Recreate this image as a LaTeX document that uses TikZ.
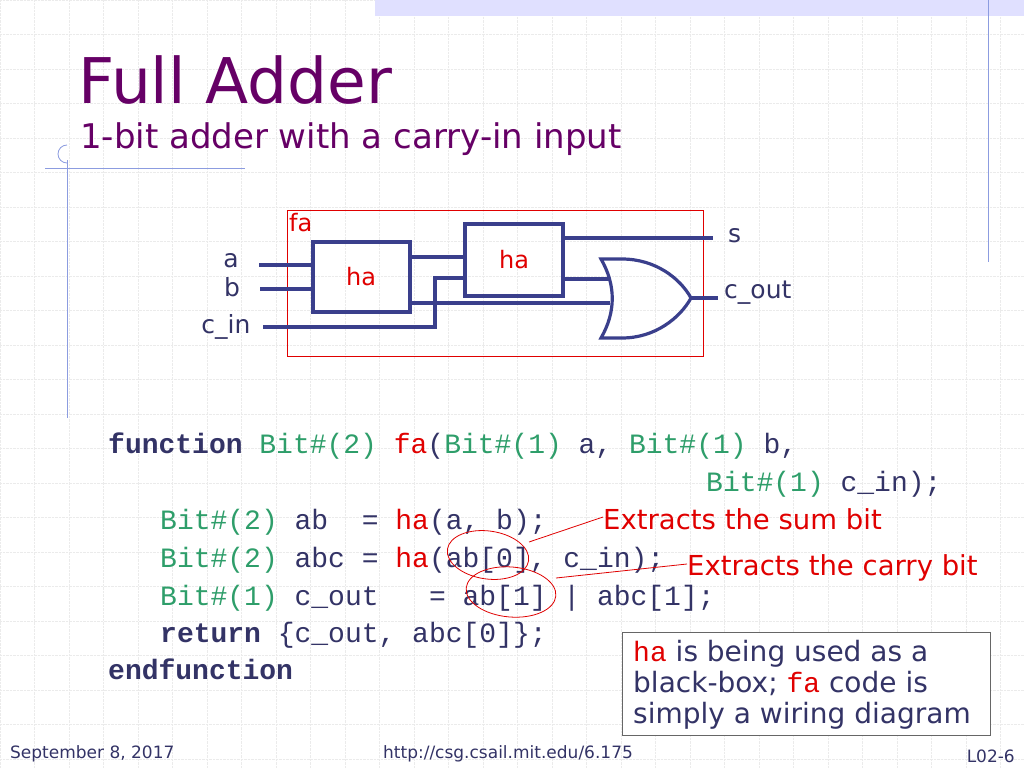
\documentclass[tikz,border=0pt]{standalone}
\usepackage{fontspec}
\setmainfont{DejaVu Sans}
\newfontfamily\codefont{Liberation Mono}
\usetikzlibrary{calc}
\definecolor{navy}{HTML}{333366}
\definecolor{wire}{HTML}{3A3F8C}
\definecolor{kgreen}{HTML}{2E9E6A}
\definecolor{kred}{HTML}{E00000}
\definecolor{ttl}{HTML}{660066}
\definecolor{rule}{HTML}{8C9CE0}
\tikzset{
  lbl/.style={text=navy,font=\fontsize{25}{27}\selectfont,inner sep=0pt},
  halbl/.style={text=kred,font=\fontsize{24}{26}\selectfont,inner sep=0pt},
  habox/.style={draw=wire,line width=3.2pt},
  w/.style={draw=wire,line width=3.2pt},
  code/.style={anchor=base west,inner sep=0pt,text=navy,font=\codefont\fontsize{28}{30}\selectfont},
  note/.style={text=kred,font=\fontsize{27.5}{29}\selectfont,inner sep=0pt,anchor=base west},
  boxt/.style={anchor=base west,inner sep=0pt,text=navy,font=\fontsize{28}{30}\selectfont},
  foot/.style={inner sep=0pt,text=navy,font=\fontsize{17}{19}\selectfont},
}
\newcommand{\G}[1]{\textcolor{kgreen}{#1}}
\newcommand{\R}[1]{\textcolor{kred}{#1}}
\begin{document}
\begin{tikzpicture}[x=1pt,y=-1pt]
\useasboundingbox (0,0) rectangle (1024,768);
\fill[white] (0,0) rectangle (1024,768);
% grid
\foreach \i in {0,...,30} {\draw[black!8,densely dotted] (\i*34.5,0) -- (\i*34.5,768);}
\foreach \i in {0,...,22} {\draw[black!8,densely dotted] (0,\i*34.5) -- (1024,\i*34.5);}
% decorations
\fill[blue!12] (375,0) rectangle (1024,16);
\draw[rule,line width=1pt] (988,0) -- (988,262);
\draw[rule,line width=1pt] (67,160) -- (67,418);
\draw[rule,line width=1pt] (45,168) -- (245,168);
\draw[rule,line width=0.8pt] (67,163) arc (90:270:9);
% title
\node[anchor=base west,inner sep=0pt,text=ttl,font=\fontsize{63}{65}\selectfont] (title) at (78,103) {Full Adder};
\node[anchor=base west,inner sep=0pt,text=ttl,font=\fontsize{34}{36}\selectfont] (sub) at (80,148) {1-bit adder with a carry-in input};
% circuit
\draw[kred,line width=0.8pt] (287,210) rectangle (703,356);
\node[halbl,anchor=north west] (fa) at (289,213) {fa};
\node[habox,minimum width=97pt,minimum height=70pt,inner sep=0pt] (ha1) at (361.5,277) {};
\node[halbl] at (361,277) {ha};
\node[habox,minimum width=98pt,minimum height=72pt,inner sep=0pt] (ha2) at (514,260) {};
\node[halbl] at (514,260) {ha};
\node[lbl] (la) at (231,261) {a};
\node[lbl] (lb) at (232,287) {b};
\node[lbl] (lc) at (226,327) {c\_in};
\node[lbl,anchor=west] (ls) at (728,236) {s};
\node[lbl,anchor=west] (lco) at (724,293) {c\_out};
\coordinate (ia) at (259,265);
\coordinate (ib) at (260,289);
\coordinate (ic) at (263,327);
\draw[w] (ia) -- (ia -| ha1.west);
\draw[w] (ib) -- (ib -| ha1.west);
\draw[w] (ic) -- (435,327) -- (435,278) -- (465,278);
\draw[w] (410,257) -- (465,257);
\coordinate (os) at (713,238);
\draw[w] (563,238) -- (os);
% OR gate
\draw[w] (601,259) .. controls (616,285) and (616,312) .. (601,338)
  -- (622,338) .. controls (655,338) and (680,318) .. (691,298)
  .. controls (680,278) and (655,259) .. (622,259) -- cycle;
\draw[w] (563,279) -- (609,279);
\draw[w] (410,303) -- (610,303);
\coordinate (oc) at (718,298);
\draw[w] (691,298) -- (oc);
% code
\node[code] (l1) at (108,453) {\textbf{function}~\G{Bit\#(2)}~\R{fa}(\G{Bit\#(1)}~a,~\G{Bit\#(1)}~b,};
\node[code] (l2) at (706,491) {\G{Bit\#(1)}~c\_in);};
\node[code] (l3) at (160,529) {\G{Bit\#(2)}~ab~~=~\R{ha}(a,~b);};
\node[code] (l4) at (160,567) {\G{Bit\#(2)}~abc~=~\R{ha}(ab[0],~c\_in);};
\node[code] (l5) at (160,605) {\G{Bit\#(1)}~c\_out~~~=~ab[1]~|~abc[1];};
\node[code] (l6) at (160,642) {\textbf{return}~\{c\_out,~abc[0]\};};
\node[code] (l7) at (108,679) {\textbf{endfunction}};
% annotations
\draw[kred,line width=0.8pt,rotate around={-8:(488,555)}] (488,555) ellipse (41pt and 24pt);
\draw[kred,line width=0.8pt,rotate around={-5:(511,592)}] (511,592) ellipse (45pt and 25pt);
\node[note] (n1) at (603,529) {Extracts the sum bit};
\node[note] (n2) at (687,575) {Extracts the carry bit};
\draw[kred,line width=0.8pt] (529,542) -- (n1.west |- 0,517);
\draw[kred,line width=0.8pt] (556,578) -- (n2.west |- 0,564);
% box
\node[draw=black!60,line width=1pt,fill=white,minimum width=368pt,minimum height=103pt,inner sep=0pt] (box) at (806,683.5) {};
\node[boxt] at (633,661) {\textcolor{kred}{\codefont ha} is being used as a};
\node[boxt] at (633,692) {black-box; \textcolor{kred}{\codefont fa} code is};
\node[boxt] at (633,723) {simply a wiring diagram};
% footer
\node[foot,anchor=base west] at (10,758) {September 8, 2017};
\node[foot,anchor=base] at (508,758) {http://csg.csail.mit.edu/6.175};
\node[foot,anchor=base east] at (1015,762) {L02-6};
\end{tikzpicture}
\end{document}
